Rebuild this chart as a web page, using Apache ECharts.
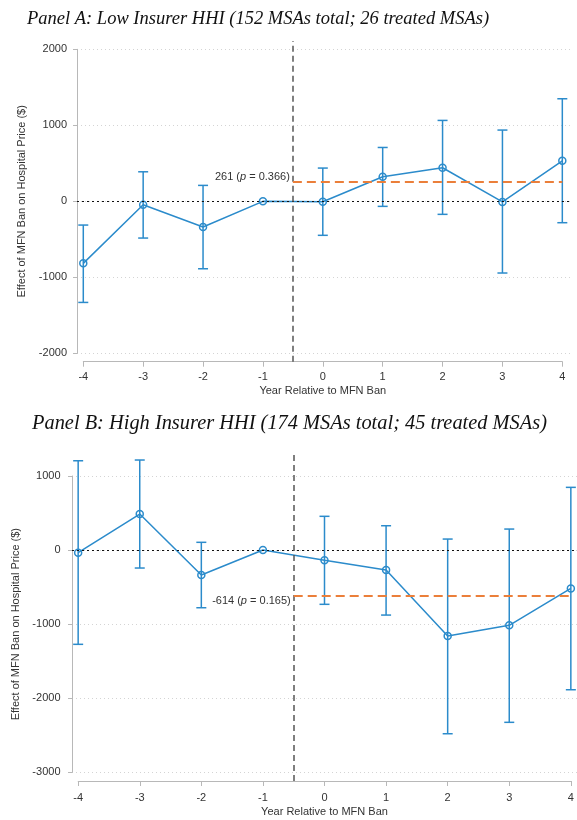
<!DOCTYPE html>
<html>
<head>
<meta charset="utf-8">
<script src="https://cdn.jsdelivr.net/npm/echarts@6/dist/echarts.min.js"></script>
<style>
html,body{margin:0;padding:0;background:#fff;}
#chart{width:577px;height:820px;}
</style>
</head>
<body>
<div id="chart"></div>
<script>
// ---- data ----
const years = [-4, -3, -2, -1, 0, 1, 2, 3, 4];
const yearTicks = ['-4', '-3', '-2', '-1', '0', '1', '2', '3', '4'];

const titleA = 'Panel A: Low Insurer HHI (152 MSAs total; 26 treated MSAs)';
const estA = [-816, -45, -338, 0, -5, 324, 442, -8, 534];
const loA  = [-1330, -483, -887, null, -447, -66, -171, -943, -281];
const hiA  = [-312, 389, 210, null, 438, 709, 1065, 938, 1350];
const avgA = 261, pA = '0.366';
const yTicksA = [-2000, -1000, 0, 1000, 2000];

const titleB = 'Panel B: High Insurer HHI (174 MSAs total; 45 treated MSAs)';
const estB = [-36, 486, -338, 0, -139, -270, -1161, -1017, -518];
const loB  = [-1273, -243, -779, null, -733, -878, -2480, -2326, -1886];
const hiB  = [1205, 1215, 104, null, 455, 328, 148, 283, 846];
const avgB = -614, pB = '0.165';
const yTicksB = [-3000, -2000, -1000, 0, 1000];

const banX = -0.5;      // MFN ban (between year -1 and 0)
const postEnd = 4;

// ---- styles ----
const BLUE = '#2b8bcb';
const ORANGE = '#eb7f3a';
const AXIS = '#b8b8b8';
const TXT = '#333333';
const FONT = 'Liberation Sans, Arial, sans-serif';

function panel(idx, cfg) {
  const gP = idx * 3, gY = idx * 3 + 1, gX = idx * 3 + 2;
  const grids = [
    {left: cfg.pL, right: cfg.pR, top: cfg.pT, height: cfg.pH},
    {left: cfg.pL, right: cfg.pR, top: cfg.yT, height: cfg.yH},
    {left: cfg.xL, right: cfg.xR, top: cfg.pT, height: cfg.pH}
  ];
  const xAxes = [
    {gridIndex: gP, type: 'value', min: cfg.xMin, max: cfg.xMax, show: false},
    {gridIndex: gY, type: 'value', min: 0, max: 1, show: false},
    {gridIndex: gX, type: 'value', min: years[0], max: years[years.length - 1], interval: 1,
     axisLine: {show: true, lineStyle: {color: AXIS, width: 1}},
     axisTick: {show: true, inside: false, length: 5, lineStyle: {color: AXIS}},
     axisLabel: {color: TXT, fontFamily: FONT, fontSize: 11, margin: cfg.xLabM,
                 formatter: v => yearTicks[years.indexOf(v)] !== undefined ? yearTicks[years.indexOf(v)] : ''},
     splitLine: {show: false},
     name: 'Year Relative to MFN Ban', nameLocation: 'middle', nameGap: cfg.xNameGap,
     nameTextStyle: {color: TXT, fontFamily: FONT, fontSize: 11}}
  ];
  const yT = cfg.yTicks;
  const yAxes = [
    {gridIndex: gP, type: 'value', min: cfg.yMin, max: cfg.yMax, show: false},
    {gridIndex: gY, type: 'value', min: yT[0], max: yT[yT.length - 1], interval: 1000,
     offset: cfg.yOff,
     axisLine: {show: true, lineStyle: {color: AXIS, width: 1}},
     axisTick: {show: true, inside: false, length: 4, lineStyle: {color: AXIS}},
     axisLabel: {color: TXT, fontFamily: FONT, fontSize: 11, margin: cfg.yLabM,
                 formatter: v => String(v)},
     splitLine: {show: true, lineStyle: {color: '#d4d4d4', type: [1, 3], width: 1}},
     name: 'Effect of MFN Ban on Hospital Price ($)', nameLocation: 'middle', nameGap: cfg.yNameGap,
     nameTextStyle: {color: TXT, fontFamily: FONT, fontSize: 11}},
    {gridIndex: gX, type: 'value', min: 0, max: 1, show: false}
  ];
  const est = cfg.est, lo = cfg.lo, hi = cfg.hi;
  const ciData = [];
  years.forEach((y, i) => { if (lo[i] !== null) ciData.push([y, lo[i], hi[i]]); });
  const lineData = years.map((y, i) => [y, est[i]]);
  const series = [
    {
      type: 'custom', xAxisIndex: gP, yAxisIndex: gP, z: 3,
      data: ciData,
      renderItem: function (params, api) {
        const x = api.value(0);
        const pLo = api.coord([x, api.value(1)]);
        const pHi = api.coord([x, api.value(2)]);
        const w = 5;
        const st = {stroke: BLUE, lineWidth: 1.5};
        return {type: 'group', children: [
          {type: 'line', shape: {x1: pLo[0], y1: pLo[1], x2: pHi[0], y2: pHi[1]}, style: st},
          {type: 'line', shape: {x1: pLo[0] - w, y1: pLo[1], x2: pLo[0] + w, y2: pLo[1]}, style: st},
          {type: 'line', shape: {x1: pHi[0] - w, y1: pHi[1], x2: pHi[0] + w, y2: pHi[1]}, style: st}
        ]};
      }
    },
    {
      type: 'line', xAxisIndex: gP, yAxisIndex: gP, z: 4,
      data: lineData,
      symbol: 'circle', symbolSize: 7,
      itemStyle: {color: 'rgba(255,255,255,0)', borderColor: BLUE, borderWidth: 1.5},
      lineStyle: {color: BLUE, width: 1.5},
      silent: true, animation: false,
      markLine: {
        silent: true, symbol: 'none', animation: false,
        data: [
          {yAxis: 0, lineStyle: {color: '#111', type: [2, 3], width: 1.2}, label: {show: false}},
          {xAxis: banX, lineStyle: {color: '#555', type: [6, 4], width: 1.5}, label: {show: false}},
          [
            {coord: [banX, cfg.avg], lineStyle: {color: ORANGE, type: [9, 5], width: 2},
             label: {show: true, position: 'start', distance: 3,
                     formatter: '{a|' + cfg.avg + ' (}{i|p}{a| = ' + cfg.p + ')}',
                     padding: cfg.labPad,
                     rich: {a: {fontFamily: FONT, fontSize: 11, color: TXT},
                            i: {fontFamily: FONT, fontSize: 11, color: TXT, fontStyle: 'italic'}}}},
            {coord: [postEnd, cfg.avg]}
          ]
        ]
      }
    }
  ];
  const title = {text: cfg.title, left: cfg.tL, top: cfg.tT,
                 textStyle: {fontFamily: 'Liberation Serif, Times New Roman, serif', fontStyle: 'italic',
                             fontWeight: 'normal', fontSize: cfg.tS, color: '#111'}};
  return {grids, xAxes, yAxes, series, title};
}

const A = panel(0, {
  title: titleA, tL: 22, tT: 5, tS: 18.5,
  pL: 77, pR: 6, pT: 41, pH: 320.7,
  xMin: -4.105, xMax: 4.145, yMin: -2110, yMax: 2110,
  yT: 49.3, yH: 304, yOff: 2, yLabM: 8, yNameGap: 38, yTicks: yTicksA,
  xL: 83.3, xR: 14.7, xLabM: 10, xNameGap: 24,
  est: estA, lo: loA, hi: hiA, avg: avgA, p: pA, labPad: [0, 0, 10, 0]
});
const B = panel(1, {
  title: titleB, tL: 27, tT: 409, tS: 20.4,
  pL: 72, pR: 0, pT: 451.5, pH: 329.5,
  xMin: -4.1, xMax: 4.1, yMin: -3118, yMax: 1330,
  yT: 476, yH: 296.3, yOff: 2.5, yLabM: 9, yNameGap: 46.5, yTicks: yTicksB,
  xL: 78.2, xR: 6.2, xLabM: 11, xNameGap: 25,
  est: estB, lo: loB, hi: hiB, avg: avgB, p: pB, labPad: [10, 0, 0, 0]
});

const chart = echarts.init(document.getElementById('chart'), null, {renderer: 'canvas'});
chart.setOption({
  animation: false,
  backgroundColor: '#fff',
  title: [A.title, B.title],
  grid: A.grids.concat(B.grids),
  xAxis: A.xAxes.concat(B.xAxes),
  yAxis: A.yAxes.concat(B.yAxes),
  series: A.series.concat(B.series)
});
</script>
</body>
</html>
